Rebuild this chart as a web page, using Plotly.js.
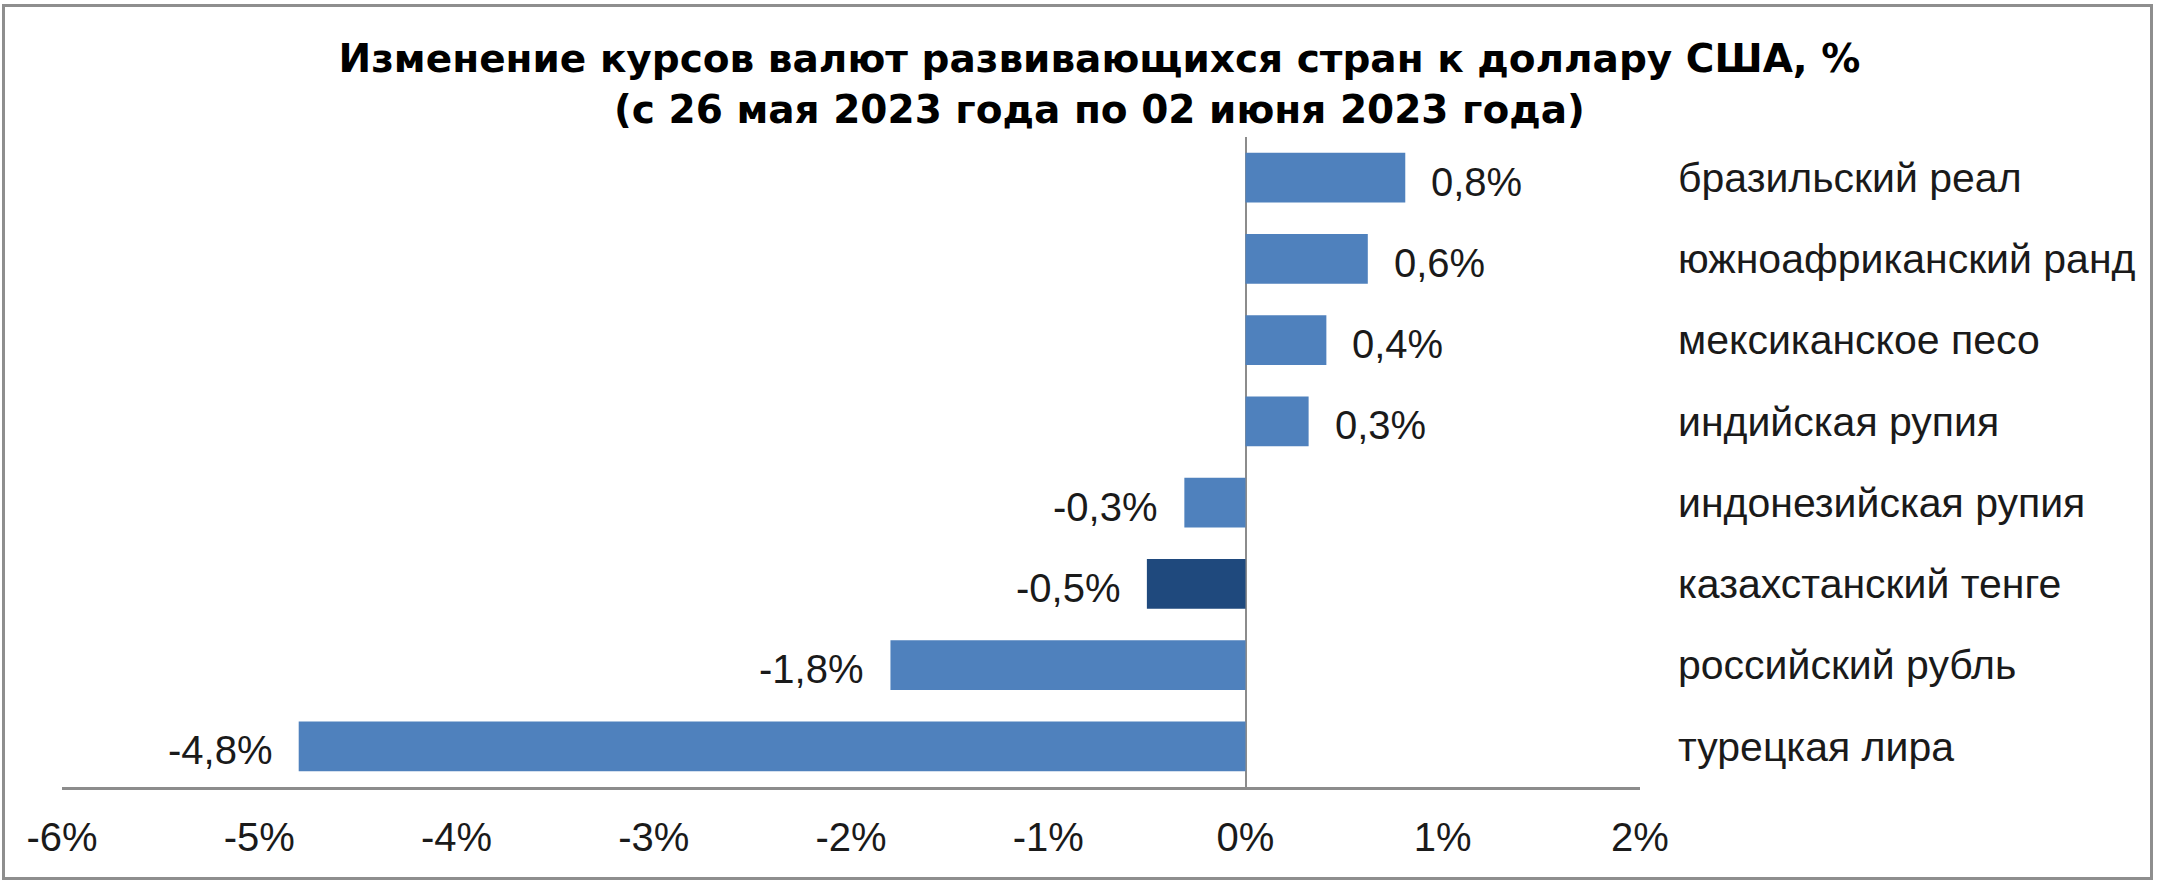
<!DOCTYPE html>
<html>
<head>
<meta charset="utf-8">
<script src="https://cdn.plot.ly/plotly-3.0.1.min.js"></script>
<style>
  html, body { margin: 0; padding: 0; background: #fff; }
  #wrap { position: relative; width: 2160px; height: 882px; }
  #chart { position: absolute; left: 0; top: 0; width: 2160px; height: 882px; }
  #frame {
    position: absolute; left: 2px; top: 4px; width: 2145px; height: 870px;
    border: 3px solid #8e8e8e; pointer-events: none;
  }
</style>
</head>
<body>
<div id="wrap">
  <div id="chart"></div>
  <div id="frame"></div>
</div>
<script>
(function () {
  'use strict';

  // currencies, top to bottom
  var currencies = [
    'бразильский реал',
    'южноафриканский ранд',
    'мексиканское песо',
    'индийская рупия',
    'индонезийская рупия',
    'казахстанский тенге',
    'российский рубль',
    'турецкая лира'
  ];
  var changes = [0.81, 0.62, 0.41, 0.32, -0.31, -0.5, -1.8, -4.8];
  var tickValues = [-6, -5, -4, -3, -2, -1, 0, 1, 2];
  var tickLabels = ['-6%', '-5%', '-4%', '-3%', '-2%', '-1%', '0%', '1%', '2%'];

  var blue = '#4f81bd';
  var darkBlue = '#1f497d';
  var axisGrey = '#8c8c8c';
  var font = 'Liberation Sans, Arial, sans-serif';
  var titleFont = 'DejaVu Sans, Arial, sans-serif';

  var colors = currencies.map(function (c) {
    return c === 'казахстанский тенге' ? darkBlue : blue;
  });

  function pct(v) {
    return v.toFixed(1).replace('.', ',') + '%';
  }

  var labels = changes.map(function (v, i) {
    return {
      x: v,
      y: currencies[i],
      xref: 'x',
      yref: 'y',
      text: pct(v),
      showarrow: false,
      xanchor: v >= 0 ? 'left' : 'right',
      xshift: v >= 0 ? 24 : -24,
      yshift: -4,
      font: { family: font, size: 40, color: '#1a1a1a' }
    };
  });

  Plotly.newPlot('chart', [{
    type: 'bar',
    orientation: 'h',
    x: changes,
    y: currencies,
    marker: { color: colors, line: { width: 0 } },
    hoverinfo: 'skip'
  }], {
    width: 2160,
    height: 882,
    margin: { l: 62, r: 520, t: 137, b: 95 },
    paper_bgcolor: '#fff',
    plot_bgcolor: '#fff',
    showlegend: false,
    bargap: 0.385,
    title: {
      text: 'Изменение курсов валют развивающихся стран к доллару США, %<br>(с 26 мая 2023 года по 02 июня 2023 года)',
      x: 0.509,
      xanchor: 'center',
      yref: 'container',
      y: 0.918,
      yanchor: 'top',
      font: { family: titleFont, size: 39, color: '#000', weight: 'bold' }
    },
    xaxis: {
      range: [-6, 2],
      tickvals: tickValues,
      ticktext: tickLabels,
      ticks: '',
      ticklabelstandoff: 13,
      showgrid: false,
      showline: true,
      linecolor: axisGrey,
      linewidth: 3,
      zeroline: true,
      zerolinecolor: axisGrey,
      zerolinewidth: 2,
      tickfont: { family: font, size: 40, color: '#1a1a1a' },
      fixedrange: true
    },
    yaxis: {
      autorange: 'reversed',
      side: 'right',
      ticks: '',
      ticklabelstandoff: 37,
      showgrid: false,
      showline: false,
      zeroline: false,
      tickfont: { family: font, size: 41, color: '#1a1a1a' },
      fixedrange: true
    },
    annotations: labels
  }, { displayModeBar: false, staticPlot: true });
})();
</script>
</body>
</html>
